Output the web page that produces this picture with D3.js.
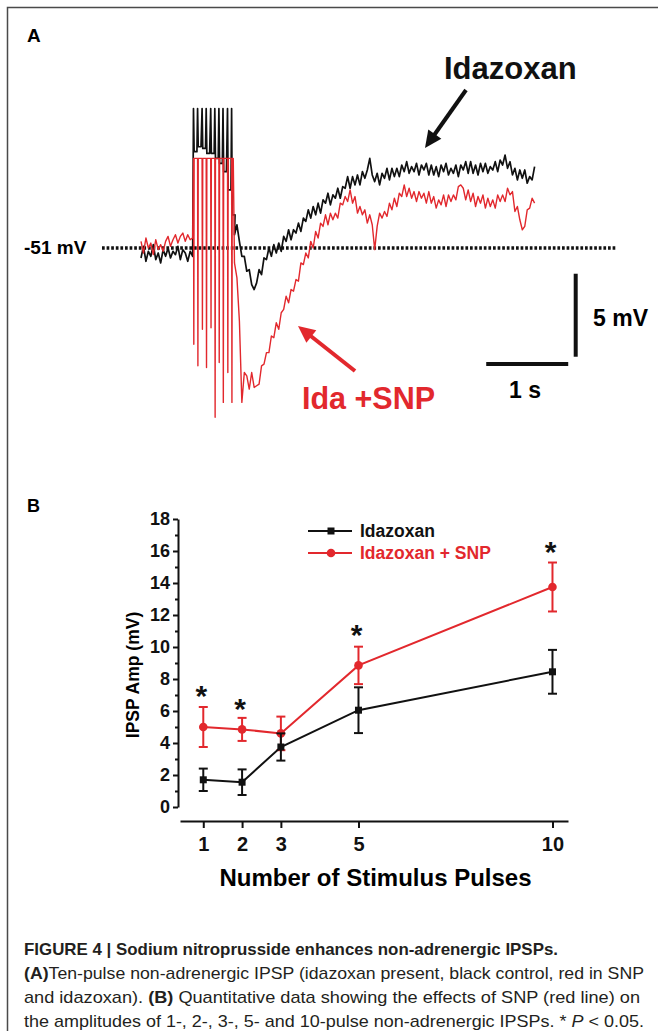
<!DOCTYPE html>
<html>
<head>
<meta charset="utf-8">
<script src="https://cdn.jsdelivr.net/npm/d3@7"></script>
<style>
  body { margin: 0; background: #fff; }
  svg { display: block; }
  text { font-family: "Liberation Sans", Arial, sans-serif; }
</style>
</head>
<body>
<svg id="canvas" width="658" height="1031"></svg>
<script>
// ************************************************************************************************** //
// Data

// Panel A: membrane potential traces (mV), sampled every 0.03 s
var sampleStep = 0.03;
var postStart = 1.14;

var preIda = [-51.6,-50.9,-51.8,-51.2,-51.5,-50.8,-51.7,-51.3,-51.9,-51.1,-51.5,-51.0,-51.6,-51.2,-51.4,-50.9,-51.7,-51.1,-51.3,-51.8,-51.2,-51.5];
var preSnp = [-50.6,-51.3,-50.4,-51.0,-50.7,-51.4,-50.5,-51.1,-50.8,-51.2,-50.6,-50.3,-50.9,-50.5,-50.2,-50.7,-50.3,-50.1,-50.6,-50.2,-50.5,-50.4];

var postIda = [
  -50.2,-49.6,-50.6,-51.5,-51.5,-52.4,-52.3,-53.2,-53.5,-53.1,
  -52.3,-52.6,-51.6,-51.7,-51.0,-51.5,-50.8,-51.3,-50.7,-51.2,
  -50.3,-50.6,-49.9,-50.5,-49.9,-50.1,-49.5,-50.0,-49.2,-49.4,
  -48.7,-49.2,-48.5,-49.0,-48.3,-48.9,-48.1,-48.3,-47.7,-48.4,
  -47.8,-48.0,-47.4,-48.0,-47.3,-47.4,-46.7,-47.4,-46.7,-47.2,
  -46.6,-47.2,-46.4,-46.8,-46.3,-45.6,-46.6,-47.0,-46.5,-47.2,
  -46.5,-46.8,-46.2,-46.9,-46.2,-46.7,-46.2,-46.7,-46.0,-46.4,
  -45.8,-46.5,-46.1,-46.4,-45.9,-46.6,-46.0,-46.3,-45.9,-46.6,
  -46.0,-46.6,-46.1,-46.7,-46.0,-46.4,-45.9,-46.6,-46.2,-46.5,
  -46.0,-46.7,-46.0,-46.3,-45.8,-46.5,-45.8,-46.5,-46.0,-46.6,
  -45.9,-46.4,-45.9,-46.5,-46.1,-46.3,-45.8,-46.4,-45.7,-46.0,
  -45.4,-46.2,-45.8,-46.6,-46.2,-46.9,-46.3,-46.8,-46.3,-47.1,
  -46.7,-46.9,-46.1];
var postSnp = [
  -51.9,-52.8,-55.4,-60.3,-58.5,-58.7,-59.5,-58.5,-59.4,-59.3,
  -59.2,-58.1,-58.0,-57.3,-57.3,-56.3,-56.4,-55.5,-55.9,-54.9,
  -54.7,-53.9,-54.3,-53.5,-53.6,-52.9,-53.0,-51.9,-52.0,-51.3,
  -51.6,-50.6,-51.0,-50.0,-50.4,-49.5,-49.7,-49.0,-49.6,-48.9,
  -49.3,-48.9,-49.2,-48.3,-48.4,-47.9,-48.2,-47.5,-48.3,-47.9,
  -48.9,-48.5,-49.0,-48.7,-49.5,-49.0,-49.6,-51.1,-49.7,-48.9,
  -49.2,-48.8,-49.1,-48.3,-48.7,-48.0,-48.5,-47.7,-47.9,-47.2,
  -47.9,-47.4,-48.0,-47.6,-48.2,-47.6,-48.0,-47.7,-48.3,-47.6,
  -48.3,-47.9,-48.6,-48.1,-48.4,-47.8,-48.5,-47.8,-48.2,-47.8,
  -48.1,-47.3,-47.2,-47.4,-48.1,-47.5,-48.2,-47.7,-48.5,-47.9,
  -48.3,-47.8,-48.6,-48.0,-48.5,-48.1,-48.6,-47.8,-48.2,-47.8,
  -48.2,-47.4,-47.8,-47.6,-48.8,-48.5,-49.3,-49.9,-49.7,-48.7,
  -48.6,-48.0,-48.3];

// ten-pulse stimulus train (s), clipped spike tops and levels between spikes (mV)
var spikeTimes = [0.64, 0.69, 0.745, 0.795, 0.85, 0.9, 0.95, 1.0, 1.055, 1.105];
var idaClip = -42.6;
var snpClip = -45.6;
var idaBetween = [-45.2,-44.9,-45.0,-45.3,-45.3,-45.6,-45.9,-46.4,-47.5,-49.0];
var snpSpikeLow = [-56.8,-58.1,-55.9,-58.2,-55.8,-61.2,-57.9,-60.3,-58.5,-60.3];

var restingMv = -51;
var scaleBarSec = 1;
var scaleBarMv = 5;

// Panel B: IPSP amplitude (mV) vs number of pulses
var pulses = [1, 2, 3, 5, 10];
var idaMean = [1.7, 1.55, 3.75, 6.05, 8.45];
var idaErr  = [0.7, 0.8, 0.85, 1.43, 1.37];
var snpMean = [5.0, 4.85, 4.6, 8.85, 13.75];
var snpErr  = [1.25, 0.72, 1.05, 1.17, 1.53];
var starPulses = [1, 2, 5, 10];
var starLevel  = [7.4, 6.55, 11.2, 16.4];
var ampTicks   = [0, 2, 4, 6, 8, 10, 12, 14, 16, 18];
var ampMinor   = [1, 3, 5, 7, 9, 11, 13, 15, 17];

var RED = '#e2282d';
var svg = d3.select('#canvas');

// ************************************************************************************************** //
// Frame

svg.append('path').attr('d', 'M7.5,1031V7.5H658').attr('fill', 'none').attr('stroke', '#4a4a4a').attr('stroke-width', 1.5);

// ************************************************************************************************** //
// Panel A

var xA = d3.scaleLinear().domain([0, 4.8]).range([141, 534.6]);
var yA = d3.scaleLinear().domain([-51, -46]).range([248, 165]);
var traceLine = d3.line().x((d) => { return xA(d.t) }).y((d) => { return yA(d.v) });

function buildIda(){
  var pts = preIda.map((v, i) => { return { t: i*sampleStep, v: v } });
  spikeTimes.forEach((ts, k) => {
    pts.push({ t: ts, v: idaClip });
    pts.push({ t: ts+0.008, v: idaBetween[k] });
    pts.push({ t: ts+0.042, v: idaBetween[k] });
  });
  postIda.forEach((v, i) => { pts.push({ t: postStart + i*sampleStep, v: v }) });
  return pts;
}

function buildSnp(){
  var pts = preSnp.map((v, i) => { return { t: i*sampleStep, v: v } });
  spikeTimes.forEach((ts, k) => {
    pts.push({ t: ts, v: snpClip });
    pts.push({ t: ts+0.004, v: snpSpikeLow[k] });
    pts.push({ t: ts+0.008, v: snpClip });
  });
  pts.push({ t: 1.125, v: snpClip });
  postSnp.forEach((v, i) => { pts.push({ t: postStart + i*sampleStep, v: v }) });
  return pts;
}

var gA = svg.append('g');

gA.append('text').attr('x', 27).attr('y', 42).attr('font-size', 19).attr('font-weight', 'bold').text('A');

// -51 mV reference line
gA.append('line')
  .attr('x1', 102).attr('x2', 616).attr('y1', yA(restingMv)).attr('y2', yA(restingMv))
  .attr('stroke', '#111').attr('stroke-width', 3.4).attr('stroke-dasharray', '2.7,1.9');
gA.append('text').attr('x', 24).attr('y', yA(restingMv)+6).attr('font-size', 19).attr('font-weight', 'bold').text(restingMv + ' mV');

gA.append('path').attr('d', traceLine(buildIda())).attr('fill', 'none').attr('stroke', '#111').attr('stroke-width', 1.7).attr('stroke-linejoin', 'round');
gA.append('path').attr('d', traceLine(buildSnp())).attr('fill', 'none').attr('stroke', RED).attr('stroke-width', 1.4).attr('stroke-linejoin', 'round');

// scale bars
var barT0 = 4.21, barMv0 = -52.55;
gA.append('line').attr('x1', xA(barT0)).attr('x2', xA(barT0 + scaleBarSec)).attr('y1', 364).attr('y2', 364).attr('stroke', '#111').attr('stroke-width', 4);
gA.append('line').attr('x1', 575.7).attr('x2', 575.7).attr('y1', yA(barMv0)).attr('y2', yA(barMv0 - scaleBarMv)).attr('stroke', '#111').attr('stroke-width', 4);
gA.append('text').attr('x', 593).attr('y', 326).attr('font-size', 23).attr('font-weight', 'bold').text(scaleBarMv + ' mV');
gA.append('text').attr('x', 509).attr('y', 398).attr('font-size', 23).attr('font-weight', 'bold').text(scaleBarSec + ' s');

// labels and arrows
function arrow(g, x1, y1, x2, y2, color){
  var dx = x2-x1, dy = y2-y1, L = Math.sqrt(dx*dx+dy*dy);
  var ux = dx/L, uy = dy/L, head = 17, half = 8;
  var bx = x2 - ux*head, by = y2 - uy*head;
  g.append('line').attr('x1', x1).attr('y1', y1).attr('x2', bx+ux*2).attr('y2', by+uy*2).attr('stroke', color).attr('stroke-width', 4);
  g.append('path').attr('d', 'M' + x2 + ',' + y2 + 'L' + (bx - uy*half) + ',' + (by + ux*half) + 'L' + (bx + uy*half) + ',' + (by - ux*half) + 'Z').attr('fill', color);
}

gA.append('text').attr('x', 444).attr('y', 79).attr('font-size', 31).attr('font-weight', 'bold').attr('fill', '#111').text('Idazoxan');
arrow(gA, 466, 90, 425, 148, '#111');
gA.append('text').attr('x', 302).attr('y', 409).attr('font-size', 30.5).attr('font-weight', 'bold').attr('fill', RED).text('Ida +SNP');
arrow(gA, 355, 371, 298, 326, RED);

// ************************************************************************************************** //
// Panel B

var xB = d3.scaleLinear().domain([0.4, 10.4]).range([180, 568]);
var yB = d3.scaleLinear().domain([0, 18]).range([807, 519]);
var gB = svg.append('g');

gB.append('text').attr('x', 27).attr('y', 512).attr('font-size', 18).attr('font-weight', 'bold').text('B');

var yAxis = gB.append('g').attr('transform', 'translate(178,0)')
  .call(d3.axisLeft(yB).tickValues(ampTicks).tickSize(5).tickSizeOuter(0).tickPadding(3));
var yMinor = gB.append('g').attr('transform', 'translate(178,0)')
  .call(d3.axisLeft(yB).tickValues(ampMinor).tickSize(3).tickSizeOuter(0).tickFormat(''));
yMinor.select('.domain').remove();
var xAxis = gB.append('g').attr('transform', 'translate(0,821)')
  .call(d3.axisBottom(xB).tickValues(pulses).tickSize(7).tickSizeOuter(0).tickPadding(9));

[yAxis, yMinor, xAxis].forEach((ax) => {
  ax.selectAll('path, line').attr('stroke', '#111').attr('stroke-width', 2);
  ax.selectAll('text').attr('fill', '#111').attr('font-weight', 'bold');
});
yAxis.selectAll('text').attr('font-size', 18);
xAxis.selectAll('text').attr('font-size', 20);

gB.append('text').attr('transform', 'translate(139,675) rotate(-90)').attr('text-anchor', 'middle')
  .attr('font-size', 17.5).attr('font-weight', 'bold').text('IPSP Amp (mV)');
gB.append('text').attr('x', 375.5).attr('y', 886).attr('text-anchor', 'middle')
  .attr('font-size', 24).attr('font-weight', 'bold').text('Number of Stimulus Pulses');

var seriesLine = d3.line().x((d) => { return xB(d.n) }).y((d) => { return yB(d.m) });

function drawSeries(mean, err, color, marker){
  var data = pulses.map((n, i) => { return { n: n, m: mean[i], e: err[i] } });
  var g = gB.append('g');
  g.append('path').attr('d', seriesLine(data)).attr('fill', 'none').attr('stroke', color).attr('stroke-width', 2);
  data.forEach((d) => {
    var x = xB(d.n);
    g.append('line').attr('x1', x).attr('x2', x).attr('y1', yB(d.m - d.e)).attr('y2', yB(d.m + d.e)).attr('stroke', color).attr('stroke-width', 2);
    [d.m - d.e, d.m + d.e].forEach((v) => {
      g.append('line').attr('x1', x-4.5).attr('x2', x+4.5).attr('y1', yB(v)).attr('y2', yB(v)).attr('stroke', color).attr('stroke-width', 2);
    });
    if(marker == 'square'){
      g.append('rect').attr('x', x-3.5).attr('y', yB(d.m)-3.5).attr('width', 7).attr('height', 7).attr('fill', color);
    } else {
      g.append('circle').attr('cx', x).attr('cy', yB(d.m)).attr('r', 4.3).attr('fill', color);
    }
  });
}

drawSeries(snpMean, snpErr, RED, 'circle');
drawSeries(idaMean, idaErr, '#111', 'square');

starPulses.forEach((n, i) => {
  gB.append('text').attr('x', xB(n) - 2).attr('y', yB(starLevel[i]) + 17).attr('text-anchor', 'middle')
    .attr('font-size', 30).attr('font-weight', 'bold').attr('fill', '#111').text('*');
});

// legend
var legend = gB.append('g');
legend.append('line').attr('x1', 308).attr('x2', 352).attr('y1', 531).attr('y2', 531).attr('stroke', '#111').attr('stroke-width', 2);
legend.append('rect').attr('x', 327.5).attr('y', 527.5).attr('width', 7).attr('height', 7).attr('fill', '#111');
legend.append('text').attr('x', 360).attr('y', 537).attr('font-size', 17.5).attr('font-weight', 'bold').attr('fill', '#111').text('Idazoxan');
legend.append('line').attr('x1', 308).attr('x2', 352).attr('y1', 553).attr('y2', 553).attr('stroke', RED).attr('stroke-width', 2);
legend.append('circle').attr('cx', 331).attr('cy', 553).attr('r', 4.3).attr('fill', RED);
legend.append('text').attr('x', 360).attr('y', 559).attr('font-size', 17.5).attr('font-weight', 'bold').attr('fill', RED).text('Idazoxan + SNP');

// ************************************************************************************************** //
// Caption

var cap = svg.append('g').attr('fill', '#231f20').attr('font-size', 17);
function capLine(y, width, parts){
  var t = cap.append('text').attr('x', 24).attr('y', y).attr('textLength', width).attr('lengthAdjust', 'spacingAndGlyphs');
  parts.forEach((p) => {
    var s = t.append('tspan').text(p[0]);
    if(p[1] == 'b') s.attr('font-weight', 'bold');
    if(p[1] == 'i') s.attr('font-style', 'italic');
  });
}
capLine(955, 534, [['FIGURE 4 | Sodium nitroprusside enhances non-adrenergic IPSPs.', 'b']]);
capLine(979, 620, [['(A)', 'b'], ['Ten-pulse non-adrenergic IPSP (idazoxan present, black control, red in SNP', '']]);
capLine(1003, 616, [['and idazoxan). ', ''], ['(B)', 'b'], [' Quantitative data showing the effects of SNP (red line) on', '']]);
capLine(1027, 620, [['the amplitudes of 1-, 2-, 3-, 5- and 10-pulse non-adrenergic IPSPs. * ', ''], ['P', 'i'], [' < 0.05.', '']]);
</script>
</body>
</html>
